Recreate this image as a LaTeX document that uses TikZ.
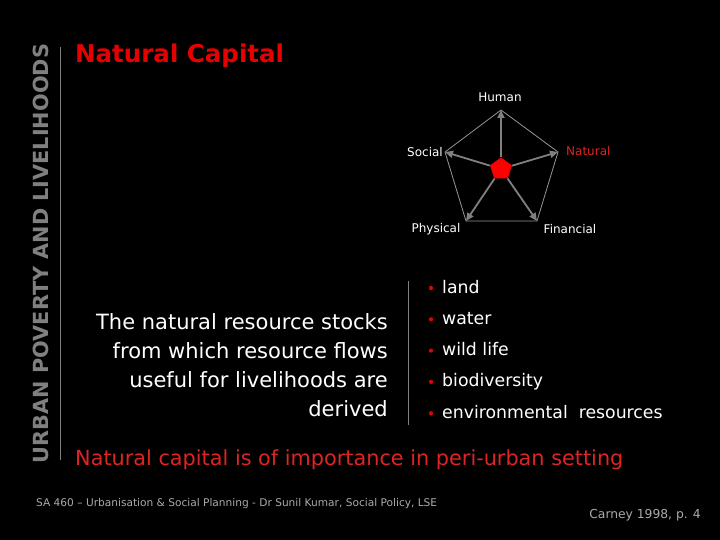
\documentclass[tikz,border=0pt]{standalone}
\usepackage{fontspec}
\setmainfont{DejaVu Sans}
\usetikzlibrary{arrows.meta,shapes.geometric}
\definecolor{slideR}{RGB}{230,0,0}
\definecolor{slideRl}{RGB}{222,36,36}
\definecolor{slideG}{RGB}{128,128,128}
\definecolor{slideL}{RGB}{150,150,150}
\definecolor{slideF}{RGB}{170,170,170}
\newcommand{\slidesize}[2]{\fontsize{#1}{#2}\selectfont}

\begin{document}
\begin{tikzpicture}[x=1pt,y=-1pt,>={Triangle[length=8pt,width=7pt]},
  lbl/.style={text=white,inner sep=0,font=\slidesize{12}{14}},
  item/.style={text=white,anchor=base west,inner sep=0,font=\slidesize{17.3}{20}}]
\fill[black] (0,0) rectangle (720,540);
\node[rotate=90,inner sep=0,text=slideG,font=\bfseries\slidesize{20.8}{24}] (side) at (41,253.5) {URBAN POVERTY AND LIVELIHOODS};
\draw[slideG] (60,47)--(60,460);
\node[anchor=base west,inner sep=0,text=slideR,font=\bfseries\slidesize{24.5}{28}] (title) at (75,63) {Natural Capital};
% asset pentagon
\coordinate (hum) at (501,110);
\coordinate (soc) at (445,152);
\coordinate (nat) at (558,152);
\coordinate (phy) at (466,221);
\coordinate (fin) at (537,221);
\draw[slideL,line width=0.8pt] (hum)--(nat)--(fin)--(phy)--(soc)--cycle;
\node[regular polygon,regular polygon sides=5,fill=red,minimum size=23pt,inner sep=0] (core) at (501,169) {};
\foreach \v in {hum,soc,nat,phy,fin} \draw[->,slideG,line width=1.8pt] (core)--(\v);
\node[lbl] (humL) at (500,97) {Human};
\node[lbl,anchor=east] (socL) at (443,152) {Social};
\node[lbl,anchor=west,text=slideRl] (natL) at (566,151) {Natural};
\node[lbl] (phyL) at (436,229) {Physical};
\node[lbl] (finL) at (570,229) {Financial};
% stocks and list
\node[anchor=north east,inner sep=0,align=right,text=white,font=\slidesize{21}{29}] (stock) at (388,313) {The natural resource stocks\\from which resource flows\\useful for livelihoods are\\derived};
\draw[slideG] (408,281)--(408,425);
\foreach \t [count=\i] in {land,water,wild life,biodiversity,environmental\ \ resources}{
  \fill[slideR] (431,288+31.3*\i-31.3) circle (2.1pt);
  \node[item] (res\i) at (442,293+31.3*\i-31.3) {\t};
}
\node[anchor=base west,inner sep=0,text=slideRl,font=\slidesize{20.8}{25}] (note) at (75,465) {Natural capital is of importance in peri-urban setting};
\node[anchor=base west,inner sep=0,text=slideF,font=\slidesize{10.6}{12}] (foot) at (36,506) {SA 460 – Urbanisation \& Social Planning - Dr Sunil Kumar, Social Policy, LSE};
\node[anchor=base east,inner sep=0,text=slideF,font=\slidesize{12.3}{14}] (ref) at (701,518) {Carney 1998, p. 4};
\end{tikzpicture}
\end{document}
